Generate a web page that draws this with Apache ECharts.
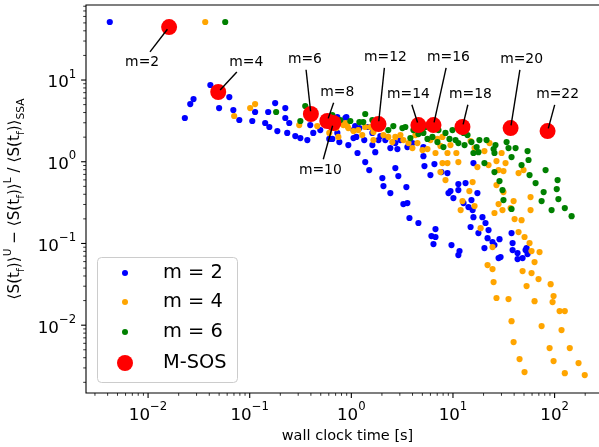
<!DOCTYPE html>
<html><head><meta charset="utf-8">
<script src="https://cdn.jsdelivr.net/npm/echarts@6/dist/echarts.min.js"></script>
<style>html,body{margin:0;padding:0;background:#fff;}#c{width:599px;height:447px;}</style>
</head><body><div id="c"></div>
<script>
const FONT = 'DejaVu Sans';
// axis extents
const X_MIN = 0.00245, X_MAX = 343;
const Y_MIN = 0.00148, Y_MAX = 82.8;

// m = 2 (blue)
const m2Data = [
[0.0042,51.3],[0.041,8.69],[0.063,6.19],[0.028,5.85],[0.026,5.08],[0.050,4.54],[0.069,4.29],[0.023,3.43],
[0.079,3.24],[0.106,3.15],[0.113,4.06],[0.152,4.06],[0.178,5.23],[0.224,4.54],[0.142,2.98],[0.156,2.66],
[0.187,2.37],[0.224,3.43],[0.245,2.98],[0.234,2.25],[0.281,2.06],[0.315,1.95],[0.369,1.84],[0.422,2.25],
[0.394,2.81],[0.495,2.44],[0.607,1.90],[0.762,1.74],[0.728,2.25],[0.893,3.52],[0.934,1.60],[1.05,2.44],
[1.05,1.95],[1.20,2.58],[1.34,1.84],[1.44,2.66],[0.728,3.52],[0.873,3.43],[0.650,1.90],[1.09,2.73],
[1.12,2.01],[1.15,1.28],[1.37,0.992],[1.50,0.791],[1.61,1.60],[1.72,1.31],[1.93,2.06],[2.02,0.632],
[2.07,0.504],[2.42,0.414],[2.16,1.84],[2.42,1.47],[2.84,1.43],[2.71,0.837],[2.90,0.668],[3.48,0.490],
[3.25,0.303],[3.56,0.312],[3.73,0.205],[4.57,0.178],[6.73,0.150],[6.14,0.123],[6.73,0.120],[6.43,0.0983],
[9.67,0.0956],[11.6,0.0807],[11.3,0.0721],[3.56,1.51],[3.99,1.69],[5.12,1.17],[5.24,0.886],[6.00,0.687],
[6.57,0.937],[7.70,0.748],[8.83,0.727],[9.03,0.414],[9.45,0.438],[10.1,0.359],[11.3,0.533],[11.3,0.450],
[13.3,0.549],[12.7,0.312],[14.2,0.279],[15.2,0.340],[15.6,0.256],[15.9,0.210],[14.9,0.159],[17.4,0.414],
[17.8,0.134],[19.5,0.210],[20.9,0.178],[22.4,0.146],[21.9,0.116],[24.5,0.104],[25.6,0.0956],[20.4,0.0878],
[28.7,0.113],[29.4,0.0682],[28.1,0.0663],[15.9,0.964],[37.7,0.134],[38.6,0.101],[38.6,0.0830],[43.2,0.0763],
[43.2,0.0645],[48.4,0.0663],[51.8,0.0830],[54.2,0.0742],[53.0,0.0878],[5.12,1.51],[1.61,2.25],[1.85,1.84],
[2.71,1.69],[3.04,1.84]
];
// m = 4 (orange)
const m4Data = [
[0.0365,51.3],[0.101,4.54],[0.113,5.08],[0.0703,3.63],[0.307,2.81],[0.462,2.73],[0.607,2.25],[0.834,2.81],
[0.934,2.58],[1.05,2.37],[1.28,2.12],[1.65,2.31],[1.65,1.84],[2.07,2.12],[2.31,2.01],[2.71,2.01],
[2.53,1.74],[3.65,1.69],[3.99,1.47],[4.47,1.69],[5.01,1.39],[5.61,1.43],[7.03,1.90],[7.88,2.01],
[7.53,1.56],[6.73,1.28],[8.83,1.28],[7.88,0.964],[8.83,0.964],[7.53,0.748],[8.44,0.597],[10.8,1.28],
[11.3,0.992],[9.45,1.60],[14.9,1.79],[16.3,1.47],[17.4,0.861],[20.4,1.35],[22.9,1.69],[22.4,0.911],
[15.6,0.564],[14.5,0.438],[16.3,0.287],[12.4,0.330],[11.9,0.256],[18.7,0.154],[24.5,0.0903],[26.8,1.02],
[28.1,0.791],[26.8,0.518],[31.4,0.426],[31.4,0.769],[32.9,0.964],[30.1,1.28],[30.7,0.256],[28.1,0.303],
[25.6,0.236],[39.5,0.330],[36.9,0.271],[40.4,0.199],[44.2,0.727],[49.5,0.791],[47.3,0.193],[44.2,0.138],
[50.6,0.120],[56.7,0.101],[58.0,0.370],[58.0,0.256],[59.3,0.0807],[71.1,0.0785],[63.5,0.0592],[59.3,0.0434],
[48.4,0.0459],[53.0,0.0301],[69.5,0.0367],[91.4,0.0318],[21.9,0.0544],[24.5,0.0486],[25.1,0.0337],[26.8,0.0215],
[35.2,0.0209],[37.7,0.0112],[39.5,0.00621],[45.2,0.00385],[50.6,0.00267],[63.5,0.0197],[74.5,0.00975],[89.3,0.00525],
[97.7,0.00364],[126,0.00259],[97.7,0.0227],[95.5,0.0192],[112,0.0149],[126,0.0149],[117,0.00871],[141,0.00525],
[172,0.00344],[198,0.00245],[0.711,2.58],[0.873,2.98],[1.17,2.44],[1.37,2.66],[1.85,2.58],[3.04,2.12],
[3.25,1.84],[4.27,2.12],[6.00,1.84],[0.745,2.01],[1.54,2.66],[0.913,2.73]
];
// m = 6 (green)
const m6Data = [
[0.0574,51.3],[0.182,4.06],[0.352,4.81],[0.315,3.15],[0.650,3.73],[1.20,3.06],[1.37,3.84],[1.31,3.06],
[2.59,2.73],[3.18,2.58],[3.40,2.66],[3.81,1.95],[4.57,2.18],[5.12,2.25],[5.61,1.90],[6.28,2.01],
[7.03,1.74],[8.44,2.25],[8.06,1.51],[9.24,1.90],[10.6,1.84],[11.3,1.69],[13.0,1.60],[12.7,2.25],
[15.2,1.74],[18.2,1.84],[17.1,1.51],[17.8,1.31],[15.9,1.28],[20.4,0.964],[25.1,1.43],[25.6,1.28],
[28.7,0.580],[25.6,0.748],[30.7,0.450],[31.4,0.340],[37.7,0.264],[33.7,1.74],[35.2,1.47],[37.7,1.14],
[54.2,1.35],[55.4,1.05],[47.3,0.911],[56.7,0.687],[65.0,0.549],[81.5,0.791],[107,0.597],[105,0.463],
[78.0,0.426],[109,0.349],[74.5,0.330],[93.4,0.256],[126,0.271],[147,0.216],[0.779,3.24],[0.977,3.15],
[1.61,3.24],[1.93,2.98],[2.31,2.44],[4.08,2.44],[5.36,2.66],[7.20,2.44],[9.89,2.44],[13.9,2.12],
[21.4,1.84],[26.2,1.60],[41.3,1.47]
];
// M-SOS (red)
const msosData = [
[0.0161,44.5],[0.049,7.13],[0.40,3.84],[0.58,3.15],[0.665,2.98],[1.85,2.89],[4.57,2.81],[6.43,2.81],
[12.4,2.66],[36.9,2.58],[85.3,2.37]
];
const msosLabels = ['m=2','m=4','m=6','m=8','m=10','m=12','m=14','m=16','m=18','m=20','m=22'];
const seriesNames = ['m = 2','m = 4','m = 6','M-SOS'];
const seriesColors = ['#0000ff','#ffa500','#008000','#ff0000'];

// layout (pixels): annotation text offsets from their point
const ANNOT_OFFSETS = [[-27,35],[28,-30],[-6,-55],[10,-29],[-13,47],[7,-67],[-10,-31],[15,-68],[8,-33],[11,-69],[10,-37]];

function logTicks(lo, hi) {
  const out = [];
  for (let e = -4; e <= 3; e++) {
    for (let k = 1; k <= 9; k++) {
      const v = k * Math.pow(10, e);
      if (v >= lo * 1.0001 && v <= hi * 0.9999) out.push([v, k === 1 ? 1 : 0]);
    }
  }
  return out;
}
const xTickVals = logTicks(X_MIN, X_MAX);
const yTickVals = logTicks(Y_MIN, Y_MAX);

const mctx = document.createElement('canvas').getContext('2d');
const ANN_FONT = '13.9px "DejaVu Sans"';
mctx.font = ANN_FONT;

function powLabel(v) {
  const l = Math.log10(v), e = Math.round(l);
  if (Math.abs(l - e) > 1e-6) return '';
  return '{b|10}{s|' + (e < 0 ? '\u2212' + (-e) : String(e)) + '}';
}
const tickRich = {
  b: {fontFamily: FONT, fontSize: 16.7, color: '#000', lineHeight: 23, verticalAlign: 'bottom'},
  s: {fontFamily: FONT, fontSize: 11.7, color: '#000', lineHeight: 12, verticalAlign: 'top'}
};

const chart = echarts.init(document.getElementById('c'), null, {renderer: 'canvas'});

const scatterSeries = [m2Data, m4Data, m6Data].map((d, i) => ({
  name: seriesNames[i], type: 'scatter', data: d, symbol: 'circle', symbolSize: 6.2,
  itemStyle: {color: seriesColors[i], opacity: 1}, emphasis: {disabled: true}, z: 2
}));

const legendRowsY = [273, 302, 332, 363];
const legendIconSize = [6, 6, 6, 16];
const legends = seriesNames.map((n, i) => ({
  data: [n], left: 125 - legendIconSize[i] / 2, top: legendRowsY[i] - 12, orient: 'vertical', padding: 0,
  itemWidth: 66, itemHeight: legendIconSize[i], icon: 'circle', selectedMode: false,
  textStyle: {fontFamily: FONT, fontSize: 19.4, color: '#000', lineHeight: 24}, z: 30
}));

chart.setOption({
  animation: false,
  backgroundColor: '#fff',
  grid: {left: 86, top: 5, right: -10, bottom: 54, show: true, borderColor: '#000', borderWidth: 1.1,
         containLabel: false, outerBoundsMode: 'none'},
  xAxis: {
    type: 'log', logBase: 10, min: X_MIN, max: X_MAX, splitNumber: 5,
    axisLine: {show: false}, axisTick: {show: false}, splitLine: {show: false}, minorTick: {show: false},
    axisLabel: {formatter: powLabel, rich: tickRich, margin: 8, showMinLabel: false, showMaxLabel: false},
    name: 'wall clock time [s]', nameLocation: 'middle', nameGap: 34,
    nameTextStyle: {fontFamily: FONT, fontSize: 14.5, color: '#000'}
  },
  yAxis: {
    type: 'log', logBase: 10, min: Y_MIN, max: Y_MAX, splitNumber: 5,
    axisLine: {show: false}, axisTick: {show: false}, splitLine: {show: false}, minorTick: {show: false},
    axisLabel: {formatter: powLabel, rich: tickRich, margin: 9.8, showMinLabel: false, showMaxLabel: false},
    name: '{t|\u27E8S(t}{sub|f}{t|)\u27E9}{sup|U}{t| \u2212 \u27E8S(t}{sub|f}{t|)\u27E9}{sup|L}{t| / \u27E8S(t}{sub|f}{t|)\u27E9}{sub|SSA}',
    nameLocation: 'middle', nameRotate: 90, nameGap: 58,
    nameTextStyle: {
      rich: {
        t: {fontFamily: FONT, fontSize: 15.2, color: '#000', lineHeight: 24, verticalAlign: 'middle'},
        sup: {fontFamily: FONT, fontSize: 10.6, color: '#000', lineHeight: 13, verticalAlign: 'top'},
        sub: {fontFamily: FONT, fontSize: 10.6, color: '#000', lineHeight: 13, verticalAlign: 'bottom'}
      }
    }
  },
  legend: legends,
  graphic: [{
    type: 'rect', z: 25, left: 97, top: 257,
    shape: {width: 140, height: 125, r: 4},
    style: {fill: 'rgba(255,255,255,0.8)', stroke: '#cccccc', lineWidth: 1}
  }],
  series: [
    ...scatterSeries,
    {name: 'M-SOS', type: 'scatter', data: msosData, symbol: 'circle', symbolSize: 16,
     itemStyle: {color: '#ff0000', opacity: 1}, emphasis: {disabled: true}, z: 3},
    {name: 'annotations', type: 'custom', coordinateSystem: 'cartesian2d', data: msosData, clip: false, z: 4,
     encode: {x: 0, y: 1}, silent: true,
     renderItem(params, api) {
       const i = params.dataIndex;
       const p = api.coord([api.value(0), api.value(1)]);
       const off = ANNOT_OFFSETS[i];
       const c = [p[0] + off[0], p[1] + off[1]];
       const label = msosLabels[i];
       const hw = mctx.measureText(label).width / 2, hh = 8;
       let dx = p[0] - c[0], dy = p[1] - c[1];
       const L = Math.hypot(dx, dy); dx /= L; dy /= L;
       const t = Math.min(Math.abs(dx) > 1e-6 ? hw / Math.abs(dx) : 1e9, Math.abs(dy) > 1e-6 ? hh / Math.abs(dy) : 1e9);
       const s = [c[0] + dx * (t + 2.8), c[1] + dy * (t + 2.8)];
       const e = [p[0] - dx * 2.8, p[1] - dy * 2.8];
       return {type: 'group', children: [
         {type: 'line', shape: {x1: s[0], y1: s[1], x2: e[0], y2: e[1]}, style: {stroke: '#000', lineWidth: 1.4}},
         {type: 'text', style: {text: label, x: c[0], y: c[1], align: 'center', verticalAlign: 'middle', font: ANN_FONT, fill: '#000'}}
       ]};
     }},
    {name: 'xticks', type: 'custom', coordinateSystem: 'cartesian2d', clip: false, silent: true, z: 5,
     data: xTickVals.map(t => [t[0], Y_MIN, t[1]]), encode: {x: 0, y: 1},
     renderItem(params, api) {
       const p = api.coord([api.value(0), api.value(1)]);
       const major = api.value(2) === 1;
       return {type: 'line', shape: {x1: p[0], y1: p[1], x2: p[0], y2: p[1] + (major ? 4.9 : 2.8)},
               style: {stroke: '#000', lineWidth: major ? 1.1 : 0.8}};
     }},
    {name: 'yticks', type: 'custom', coordinateSystem: 'cartesian2d', clip: false, silent: true, z: 5,
     data: yTickVals.map(t => [X_MIN, t[0], t[1]]), encode: {x: 0, y: 1},
     renderItem(params, api) {
       const p = api.coord([api.value(0), api.value(1)]);
       const major = api.value(2) === 1;
       return {type: 'line', shape: {x1: p[0], y1: p[1], x2: p[0] - (major ? 4.9 : 2.8), y2: p[1]},
               style: {stroke: '#000', lineWidth: major ? 1.1 : 0.8}};
     }}
  ]
});
</script>
</body></html>
